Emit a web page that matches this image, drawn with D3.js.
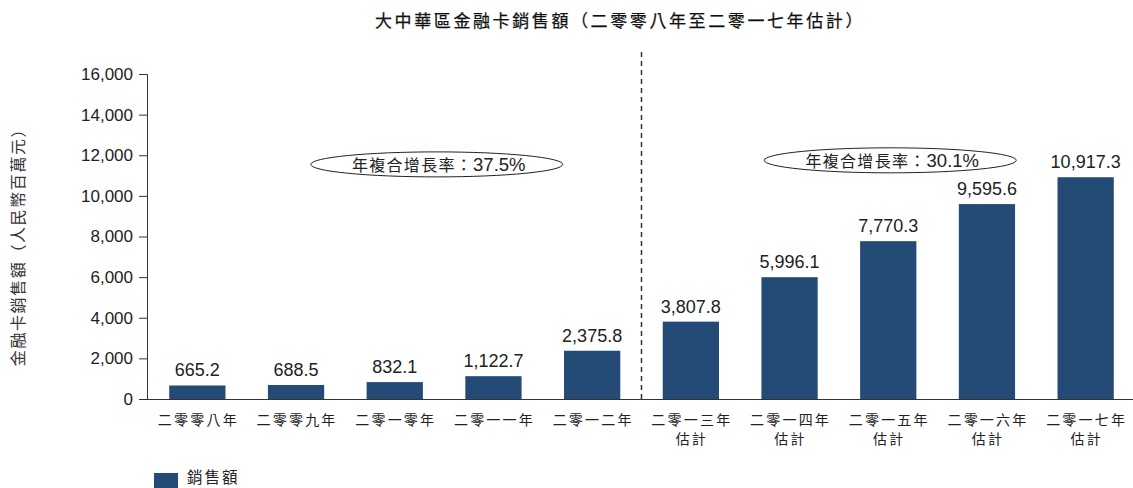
<!DOCTYPE html>
<html>
<head>
<meta charset="utf-8">
<script src="https://cdn.jsdelivr.net/npm/d3@7"></script>
<style>
  body { margin: 0; background: #fff; }
  svg { font-family: "Liberation Sans", Arial, "Noto Sans CJK TC", sans-serif; }
  .cjk { font-family: "Noto Sans CJK TC", sans-serif; }
</style>
</head>
<body>
<div id="chart"></div>
<script>
// data
var categories = ["二零零八年", "二零零九年", "二零一零年", "二零一一年", "二零一二年",
                  "二零一三年", "二零一四年", "二零一五年", "二零一六年", "二零一七年"];
var estimated = [false, false, false, false, false, true, true, true, true, true];
var sales = [665.2, 688.5, 832.1, 1122.7, 2375.8, 3807.8, 5996.1, 7770.3, 9595.6, 10917.3];
var yTicks = [0, 2000, 4000, 6000, 8000, 10000, 12000, 14000, 16000];
var cagrLabels = ["年複合增長率：37.5%", "年複合增長率：30.1%"];

var W = 1133, H = 488;
var color = "#234b75";

var svg = d3.select("#chart").append("svg")
    .attr("width", W)
    .attr("height", H);

// scales
var x = d3.scaleBand()
    .domain(categories)
    .range([148, 1135])
    .paddingInner(0.43)
    .paddingOuter(0.215);

var y = d3.scaleLinear()
    .domain([0, 16000])
    .range([399, 74]);

// title
svg.append("text")
    .attr("class", "cjk")
    .attr("x", 620)
    .attr("y", 27)
    .attr("text-anchor", "middle")
    .style("font-size", "17px")
    .style("letter-spacing", "2.6px")
    .attr("fill", "#111")
    .attr("stroke", "#111")
    .attr("stroke-width", 0.25)
    .text("大中華區金融卡銷售額（二零零八年至二零一七年估計）");

// y axis label
svg.append("text")
    .attr("class", "cjk")
    .attr("transform", "translate(24,243)rotate(-90)")
    .attr("text-anchor", "middle")
    .style("font-size", "16px")
    .style("letter-spacing", "1.6px")
    .attr("fill", "#333")
    .text("金融卡銷售額（人民幣百萬元）");

// bars
svg.selectAll(".bar")
    .data(sales)
    .enter().append("rect")
    .attr("class", "bar")
    .attr("x", function(d, i) { return x(categories[i]); })
    .attr("y", function(d) { return y(d); })
    .attr("width", x.bandwidth())
    .attr("height", function(d) { return y(0) - y(d); })
    .attr("fill", color);

// value labels
svg.selectAll(".val")
    .data(sales)
    .enter().append("text")
    .attr("class", "val")
    .attr("x", function(d, i) { return x(categories[i]) + x.bandwidth() / 2; })
    .attr("y", function(d) { return y(d) - 9; })
    .attr("text-anchor", "middle")
    .style("font-size", "18px")
    .attr("fill", "#222")
    .text(function(d) { return d3.format(",.1f")(d); });

// y axis
var yAxis = svg.append("g")
    .attr("transform", "translate(147,0)")
    .call(d3.axisLeft(y).tickValues(yTicks).tickSize(8).tickFormat(d3.format(",")));
yAxis.select(".domain").attr("stroke", "#333");
yAxis.selectAll(".tick line").attr("stroke", "#333");
yAxis.selectAll("text")
    .style("font-size", "17px")
    .style("font-family", "Liberation Sans, Arial, sans-serif")
    .attr("fill", "#222")
    .attr("x", -14);

// x axis
var xAxis = svg.append("g")
    .attr("transform", "translate(0," + y(0) + ")")
    .call(d3.axisBottom(x).tickSize(0).tickSizeOuter(0));
xAxis.select(".domain").attr("d", "M147,0.5H1133").attr("stroke", "#333");
xAxis.selectAll(".tick text").remove();
xAxis.selectAll(".tick").each(function(d, i) {
    var t = d3.select(this).append("text")
        .attr("class", "cjk")
        .attr("text-anchor", "middle")
        .style("font-size", "14px")
        .style("letter-spacing", "2.2px")
        .attr("fill", "#222");
    t.append("tspan").attr("x", 1).attr("y", 26).text(d);
    if (estimated[i]) t.append("tspan").attr("x", 1).attr("y", 45).text("估計");
});

// divider between actual and estimated
var splitX = x(categories[4]) + x.bandwidth() + x.step() * x.paddingInner() / 2;
svg.append("line")
    .attr("x1", splitX).attr("x2", splitX)
    .attr("y1", 52).attr("y2", y(0))
    .attr("stroke", "#333")
    .attr("stroke-width", 1.5)
    .attr("stroke-dasharray", "5,4");
svg.append("line")
    .attr("x1", splitX).attr("x2", splitX)
    .attr("y1", y(0)).attr("y2", y(0) - 5)
    .attr("stroke", "#333");

// CAGR ellipses
var cagrPos = [
    { cx: x(categories[2]) + x.bandwidth() / 2 + 42, v: 11550 },
    { cx: x(categories[7]) + x.bandwidth() / 2 + 2, v: 11750 }
];
cagrPos.forEach(function(p, i) {
    svg.append("ellipse")
        .attr("cx", p.cx)
        .attr("cy", y(p.v))
        .attr("rx", 126)
        .attr("ry", 12.5)
        .attr("fill", "none")
        .attr("stroke", "#222")
        .attr("stroke-width", 1);
    var parts = cagrLabels[i].split("：");
    var t = svg.append("text")
        .attr("x", p.cx + 2)
        .attr("y", y(p.v) + 6.5)
        .attr("text-anchor", "middle")
        .attr("fill", "#222");
    t.append("tspan")
        .attr("class", "cjk")
        .style("font-size", "16px")
        .style("letter-spacing", "1.3px")
        .text(parts[0] + "：");
    t.append("tspan")
        .style("font-size", "18.5px")
        .text(parts[1]);
});

// legend
svg.append("rect")
    .attr("x", 154).attr("y", 473)
    .attr("width", 24).attr("height", 15)
    .attr("fill", color);
svg.append("text")
    .attr("class", "cjk")
    .attr("x", 187)
    .attr("y", 483)
    .style("font-size", "15.5px")
    .style("letter-spacing", "2px")
    .attr("fill", "#222")
    .text("銷售額");
</script>
</body>
</html>
